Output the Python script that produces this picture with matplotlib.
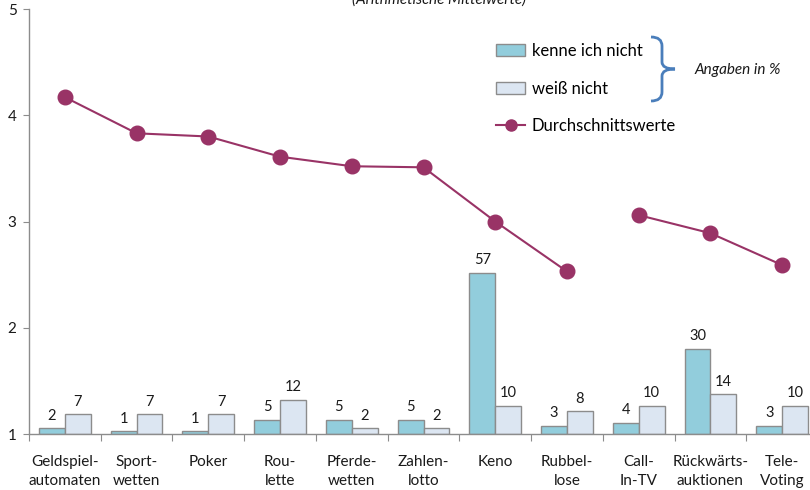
import matplotlib
matplotlib.use("Agg")
import matplotlib.pyplot as plt
from matplotlib.patches import Patch, PathPatch
from matplotlib.lines import Line2D
from matplotlib.path import Path

plt.rcParams['font.family'] = ['Lato', 'DejaVu Sans']

categories = ["Geldspiel-\nautomaten", "Sport-\nwetten", "Poker", "Rou-\nlette", "Pferde-\nwetten",
              "Zahlen-\nlotto", "Keno", "Rubbel-\nlose", "Call-\nIn-TV", "Rückwärts-\nauktionen", "Tele-\nVoting"]
kenne_ich_nicht = [2, 1, 1, 5, 5, 5, 57, 3, 4, 30, 3]
weiss_nicht = [7, 7, 7, 12, 2, 2, 10, 8, 10, 14, 10]
durchschnitt = [4.17, 3.83, 3.80, 3.61, 3.52, 3.51, 3.00, 2.53, 3.06, 2.89, 2.59]
line_break_after = 8  # line is interrupted between Rubbellose and Call-In-TV

W, H = 810, 490
fig = plt.figure(figsize=(W / 100, H / 100), dpi=100)

def fx(px):
    return px / W

def fy(py):
    return 1 - py / H

left, right, top, bottom = 29, 818, 9, 434
ax = fig.add_axes([fx(left), fy(bottom), fx(right - left), (bottom - top) / H])
axb = ax.twinx()
ax.set_zorder(axb.get_zorder() + 1)
ax.patch.set_visible(False)

x = list(range(len(categories)))
bw = 0.36
teal = "#92CDDC"
pale = "#DCE6F2"
edge = "#8C8C8C"
txt = "#1a1a1a"

b1 = axb.bar([i - bw / 2 for i in x], kenne_ich_nicht, width=bw, color=teal, edgecolor=edge, linewidth=1.0)
b2 = axb.bar([i + bw / 2 for i in x], weiss_nicht, width=bw, color=pale, edgecolor=edge, linewidth=1.0)
axb.bar_label(b1, padding=4, fontsize=10.5, color=txt)
axb.bar_label(b2, padding=4, fontsize=10.5, color=txt)
axb.set_ylim(0, 150)
axb.set_yticks([])
for s in axb.spines.values():
    s.set_visible(False)

lc = "#993366"
ax.plot(x[:line_break_after], durchschnitt[:line_break_after], color=lc, lw=1.5, marker='o', ms=10.5)
ax.plot(x[line_break_after:], durchschnitt[line_break_after:], color=lc, lw=1.5, marker='o', ms=10.5)

ax.set_ylim(1, 5)
ax.set_xlim(-0.5, len(categories) - 0.5)
ax.set_yticks([1, 2, 3, 4, 5])
ax.tick_params(axis='y', length=4, color=edge, labelsize=11, pad=5, labelcolor=txt)
ax.set_xticks([i - 0.5 for i in range(len(categories) + 1)])
ax.set_xticklabels([])
ax.tick_params(axis='x', length=5, color=edge)
ax.set_xticks(x, minor=True)
ax.set_xticklabels(categories, minor=True, fontsize=11, linespacing=1.45, color=txt)
ax.tick_params(axis='x', which='minor', length=0, pad=15)
for s in ['top', 'right']:
    ax.spines[s].set_visible(False)
for s in ['left', 'bottom']:
    ax.spines[s].set_color(edge)
    ax.spines[s].set_linewidth(1.0)

fig.text(fx(439), fy(0), "(Arithmetische Mittelwerte)", ha='center', va='center',
         fontsize=11, style='italic', color=txt)

handles = [Patch(facecolor=teal, edgecolor=edge, linewidth=1.0),
           Patch(facecolor=pale, edgecolor=edge, linewidth=1.0),
           Line2D([], [], color=lc, lw=1.5, marker='o', ms=8)]
labels = ["kenne ich nicht", "weiß nicht", "Durchschnittswerte"]
fig.legend(handles, labels, loc='upper left', bbox_to_anchor=(fx(496), fy(43)),
           frameon=False, fontsize=12, labelspacing=1.3, handlelength=1.75,
           handletextpad=0.4, borderpad=0, borderaxespad=0)

verts = [(651, 37), (662, 37), (662, 46), (662, 62), (662, 69), (675, 69),
         (662, 69), (662, 76), (662, 92), (662, 101), (651, 101)]
codes = [Path.MOVETO, Path.CURVE3, Path.CURVE3, Path.LINETO, Path.CURVE3, Path.CURVE3,
         Path.CURVE3, Path.CURVE3, Path.LINETO, Path.CURVE3, Path.CURVE3]
brace = Path([(fx(a), fy(b)) for a, b in verts], codes)
fig.add_artist(PathPatch(brace, facecolor='none', edgecolor="#4A7EBB", lw=2.0,
                         transform=fig.transFigure))
fig.text(fx(694), fy(70), "Angaben in %", ha='left', va='center', fontsize=11,
         style='italic', color=txt)

fig.savefig("out.png", dpi=100)
